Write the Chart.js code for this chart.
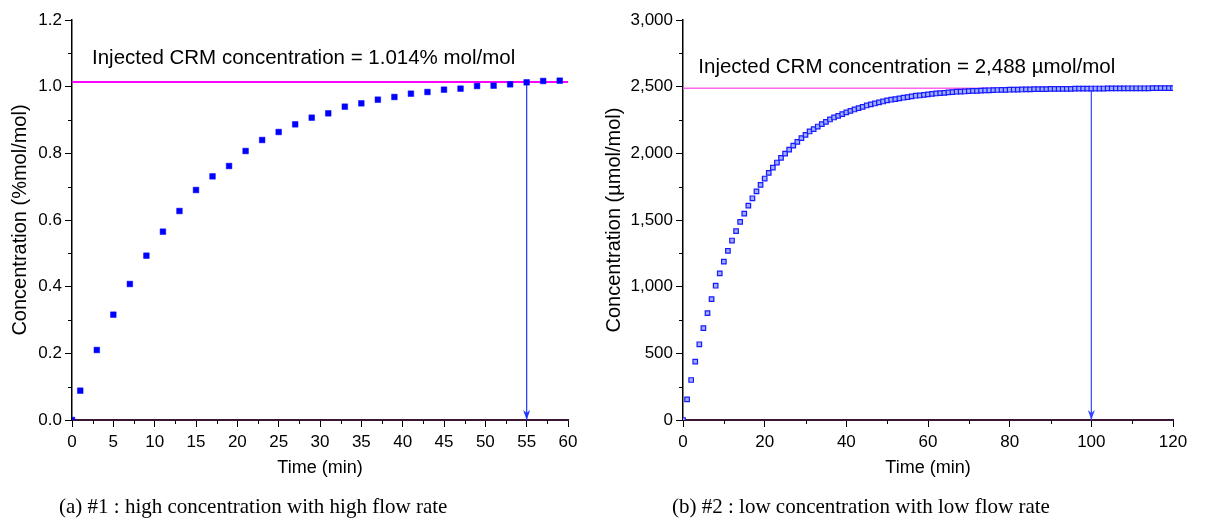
<!DOCTYPE html>
<html>
<head>
<meta charset="utf-8">
<script src="https://cdn.jsdelivr.net/npm/chart.js@4.4.1/dist/chart.umd.min.js"></script>
<style>
  html, body { margin: 0; padding: 0; background: #fff; }
  #wrap { position: relative; width: 1209px; height: 520px; overflow: hidden; }
  canvas { position: absolute; top: 0; }
  .caption {
    position: absolute; top: 496px; line-height: 21px;
    font-family: "Liberation Serif", "Times New Roman", serif;
    font-size: 21px; color: #000; white-space: nowrap;
  }
</style>
</head>
<body>
<div id="wrap">
  <canvas id="chartA" width="600" height="520" style="left:0"></canvas>
  <canvas id="chartB" width="609" height="520" style="left:600px"></canvas>
  <div class="caption" style="left:59px">(a) #1 : high concentration with high flow rate</div>
  <div class="caption" style="left:672px">(b) #2 : low concentration with low flow rate</div>
</div>
<script>
// (a) #1 : high concentration with high flow rate
const timeA = [0, 1, 3, 5, 7, 9, 11, 13, 15, 17, 19, 21, 23, 25, 27, 29, 31, 33, 35, 37, 39, 41, 43, 45, 47, 49, 51, 53, 55, 57, 59];
const concA = [0, 0.088, 0.21, 0.316, 0.408, 0.493, 0.565, 0.627, 0.69, 0.731, 0.762, 0.807, 0.84, 0.864, 0.887, 0.907, 0.92, 0.94, 0.95, 0.961,
  0.969, 0.979, 0.984, 0.991, 0.994, 1.002, 1.003, 1.007, 1.013, 1.017, 1.018];
const crmA = 1.014;
const readTimeA = 55;
const xTicksA = [0, 5, 10, 15, 20, 25, 30, 35, 40, 45, 50, 55, 60];
const yTicksA = [0, 0.2, 0.4, 0.6, 0.8, 1.0, 1.2];

// (b) #2 : low concentration with low flow rate
const timeB = [0, 1, 2, 3, 4, 5, 6, 7, 8, 9, 10, 11, 12, 13, 14, 15, 16, 17, 18, 19, 20, 21, 22, 23, 24, 25, 26, 27, 28, 29,
  30, 31, 32, 33, 34, 35, 36, 37, 38, 39, 40, 41, 42, 43, 44, 45, 46, 47, 48, 49, 50, 51, 52, 53, 54, 55, 56, 57, 58, 59,
  60, 61, 62, 63, 64, 65, 66, 67, 68, 69, 70, 71, 72, 73, 74, 75, 76, 77, 78, 79, 80, 81, 82, 83, 84, 85, 86, 87, 88, 89,
  90, 91, 92, 93, 94, 95, 96, 97, 98, 99, 100, 101, 102, 103, 104, 105, 106, 107, 108, 109, 110, 111, 112, 113, 114, 115,
  116, 117, 118, 119, 120];
const concB = [0, 155, 300, 438, 568, 689, 801, 907, 1007, 1100, 1188, 1268, 1346, 1416, 1486, 1548, 1608, 1663, 1715, 1763,
  1811, 1853, 1893, 1931, 1966, 1998, 2028, 2058, 2086, 2114, 2139, 2164, 2181, 2201, 2219, 2236, 2254, 2269, 2281, 2294,
  2307, 2319, 2329, 2339, 2349, 2359, 2367, 2374, 2382, 2389, 2397, 2402, 2407, 2412, 2417, 2422, 2427, 2432, 2434, 2439,
  2442, 2446, 2449, 2452, 2454, 2457, 2459, 2462, 2463, 2464, 2467, 2468, 2469, 2470, 2472, 2473, 2474, 2475, 2476, 2476,
  2477, 2478, 2478, 2479, 2480, 2480, 2481, 2481, 2482, 2482, 2483, 2483, 2483, 2484, 2484, 2484, 2485, 2485, 2485, 2485,
  2486, 2486, 2486, 2486, 2487, 2487, 2487, 2487, 2487, 2488, 2488, 2488, 2488, 2488, 2488, 2489, 2489, 2489, 2489, 2489, 2489];
const crmB = 2488;
const readTimeB = 100;
const arrowTopB = 2478;
const xTicksB = [0, 20, 40, 60, 80, 100, 120];
const yTicksB = [0, 500, 1000, 1500, 2000, 2500, 3000];

const SANS = '"Liberation Sans", Arial, sans-serif';

// minor ticks, arrow head and the "Injected CRM" note
const decorations = {
  id: 'decorations',
  afterDraw(chart, args, opts) {
    const { ctx, scales: { x, y } } = chart;
    ctx.save();
    ctx.strokeStyle = '#000';
    ctx.lineWidth = 1;
    const xt = x.ticks.map(t => t.value);
    for (let i = 0; i < xt.length - 1; i++) {
      const px = Math.round(x.getPixelForValue((xt[i] + xt[i + 1]) / 2)) + 0.5;
      ctx.beginPath();
      ctx.moveTo(px, y.bottom);
      ctx.lineTo(px, y.bottom + 4);
      ctx.stroke();
    }
    const yt = y.ticks.map(t => t.value);
    for (let i = 0; i < yt.length - 1; i++) {
      const py = Math.round(y.getPixelForValue((yt[i] + yt[i + 1]) / 2)) + 0.5;
      ctx.beginPath();
      ctx.moveTo(x.left, py);
      ctx.lineTo(x.left - 4, py);
      ctx.stroke();
    }

    // arrow head at the end of the read-off line
    const arrow = chart.getDatasetMeta(1).data[1];
    ctx.fillStyle = opts.arrowColor;
    ctx.beginPath();
    ctx.moveTo(arrow.x, arrow.y);
    ctx.lineTo(arrow.x - 3.5, arrow.y - 10);
    ctx.lineTo(arrow.x, arrow.y - 7);
    ctx.lineTo(arrow.x + 3.5, arrow.y - 10);
    ctx.closePath();
    ctx.fill();

    ctx.fillStyle = '#000';
    ctx.font = opts.noteFont;
    ctx.textAlign = 'left';
    ctx.textBaseline = 'middle';
    ctx.fillText(opts.note, x.getPixelForValue(opts.noteX), y.getPixelForValue(opts.noteY));
    ctx.restore();
  }
};

function axis(min, max, tickList, label, fmt, fitSize, titlePad, isX) {
  return {
    type: 'linear',
    min: min,
    max: max,
    afterBuildTicks: s => { s.ticks = tickList.map(v => ({ value: v })); },
    afterFit: s => { if (isX) s.height = fitSize; else s.width = fitSize; },
    ticks: {
      color: '#000',
      font: { family: SANS, size: 17 },
      padding: isX ? 5 : 3,
      maxRotation: 0,
      autoSkip: false,
      callback: fmt
    },
    grid: {
      drawOnChartArea: false,
      drawTicks: true,
      tickLength: 7,
      tickColor: '#000',
      tickWidth: 1
    },
    border: { display: true, color: isX ? '#3a1538' : '#000', width: isX ? 2 : 1.5 },
    title: {
      display: true,
      text: label,
      color: '#000',
      font: { family: SANS, size: isX ? 18 : 20 },
      padding: titlePad
    }
  };
}

function makeChart(id, cfg) {
  return new Chart(document.getElementById(id), {
    type: 'scatter',
    data: {
      datasets: [
        {
          data: cfg.points,
          pointStyle: 'rect',
          pointRadius: cfg.pointRadius,
          pointBackgroundColor: cfg.pointFill,
          pointBorderColor: cfg.pointLine,
          pointBorderWidth: cfg.pointBorder,
          showLine: false,
          order: 1
        },
        {
          data: cfg.arrow,
          showLine: true,
          borderColor: cfg.arrowColor,
          borderWidth: 1.2,
          pointRadius: 0,
          order: 2
        },
        {
          data: cfg.crmLine,
          showLine: true,
          borderColor: cfg.crmColor,
          borderWidth: cfg.crmWidth,
          pointRadius: 0,
          order: 3
        }
      ]
    },
    options: {
      responsive: false,
      animation: false,
      layout: { padding: cfg.padding },
      plugins: {
        legend: { display: false },
        tooltip: { enabled: false },
        decorations: {
          arrowColor: cfg.arrowColor,
          note: cfg.note,
          noteX: cfg.noteX,
          noteY: cfg.noteY,
          noteFont: '20.5px ' + SANS
        }
      },
      scales: {
        x: axis(cfg.xTicks[0], cfg.xTicks[cfg.xTicks.length - 1], cfg.xTicks, 'Time (min)', cfg.xFmt, 100,
          { top: 0, bottom: 41 }, true),
        y: axis(cfg.yTicks[0], cfg.yTicks[cfg.yTicks.length - 1], cfg.yTicks, cfg.yLabel, cfg.yFmt, cfg.yWidth,
          { top: cfg.yTitlePad, bottom: 0 }, false)
      }
    },
    plugins: [decorations]
  });
}

const xA0 = xTicksA[0], xA1 = xTicksA[xTicksA.length - 1];
makeChart('chartA', {
  points: timeA.map((t, i) => ({ x: t, y: concA[i] })),
  arrow: [{ x: readTimeA, y: crmA }, { x: readTimeA, y: 0 }],
  crmLine: [{ x: xA0, y: crmA }, { x: xA1, y: crmA }],
  pointRadius: 4,
  pointFill: '#0000ff',
  pointLine: '#0000ff',
  pointBorder: 0.5,
  arrowColor: '#1f35ff',
  crmColor: '#ff00ff',
  crmWidth: 2,
  xTicks: xTicksA,
  yTicks: yTicksA,
  xFmt: v => String(v),
  yFmt: v => v.toFixed(1),
  yLabel: 'Concentration (%mol/mol)',
  yWidth: 72,
  yTitlePad: 8,
  padding: { left: 0, right: 32, top: 20, bottom: 0 },
  note: 'Injected CRM concentration = 1.014% mol/mol',
  noteX: 2.42,
  noteY: 1.086
});

const xB0 = xTicksB[0], xB1 = xTicksB[xTicksB.length - 1];
makeChart('chartB', {
  points: timeB.map((t, i) => ({ x: t, y: concB[i] })),
  arrow: [{ x: readTimeB, y: arrowTopB }, { x: readTimeB, y: 0 }],
  crmLine: [{ x: xB0, y: crmB }, { x: xB1, y: crmB }],
  pointRadius: 3.2,
  pointFill: '#9db0ff',
  pointLine: '#1a1aff',
  pointBorder: 1.2,
  arrowColor: '#3347ff',
  crmColor: '#ff66ee',
  crmWidth: 1.5,
  xTicks: xTicksB,
  yTicks: yTicksB,
  xFmt: v => String(v),
  yFmt: v => v.toLocaleString('en-US'),
  yLabel: 'Concentration (\u00b5mol/mol)',
  yWidth: 83,
  yTitlePad: 2,
  padding: { left: 0, right: 36, top: 20, bottom: 0 },
  note: 'Injected CRM concentration = 2,488 \u00b5mol/mol',
  noteX: 3.75,
  noteY: 2648
});
</script>
</body>
</html>
